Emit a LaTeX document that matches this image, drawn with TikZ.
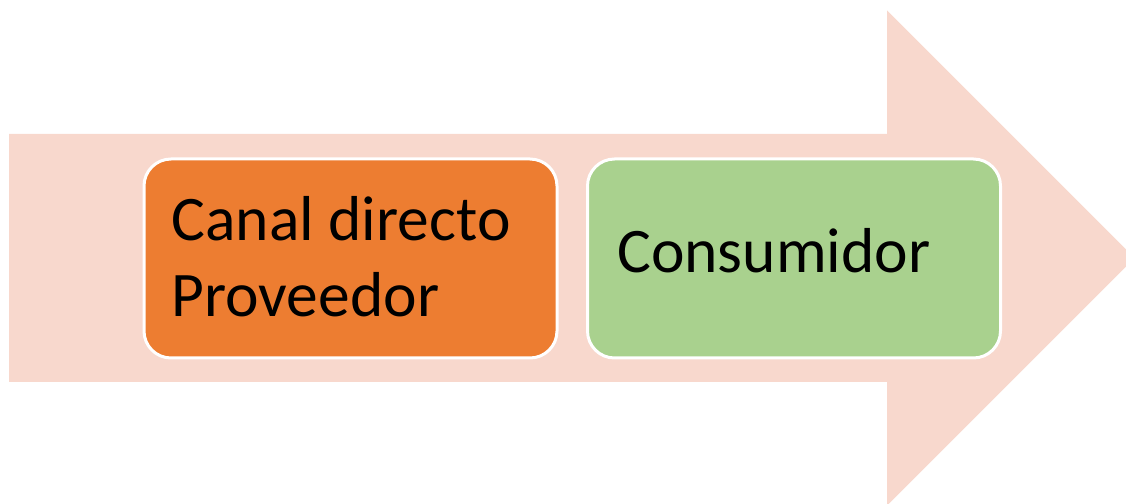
\documentclass[tikz,border=0pt]{standalone}
\usepackage{fontspec}
\setmainfont{Carlito}
\definecolor{arrowfill}{HTML}{F8D8CD}
\definecolor{boxorange}{HTML}{ED7D31}
\definecolor{boxgreen}{HTML}{A9D18E}
\tikzset{
  stagebox/.style={draw=white, line width=3pt, rounded corners=27pt,
    minimum width=413pt, minimum height=199pt, inner sep=0pt},
  stagetext/.style={anchor=base west, inner sep=0pt, align=left,
    font=\fontsize{63.5}{76}\selectfont, text=black}
}
\begin{document}
\begin{tikzpicture}[x=1pt,y=1pt]
\useasboundingbox (0,0) rectangle (1126,503);
\clip (0,0) rectangle (1126,503);
% broad block arrow running to the right
\fill[arrowfill] (9,121) -- (9,369) -- (887,369) -- (887,492.5)
  -- (1134.5,245) -- (887,-2.5) -- (887,121) -- cycle;
% the two stages
\node[stagebox, fill=boxorange] (canal) at (350.5,244.5) {};
\node[stagebox, fill=boxgreen] (consumidor) at (794,244.5) {};
\node[stagetext] (canaltext) at ([xshift=29pt,yshift=-159pt]canal.north west)
  {Canal directo\\Proveedor};
\node[stagetext] (consumidortext) at ([xshift=31pt,yshift=-115pt]consumidor.north west)
  {Consumidor};
\end{tikzpicture}
\end{document}
